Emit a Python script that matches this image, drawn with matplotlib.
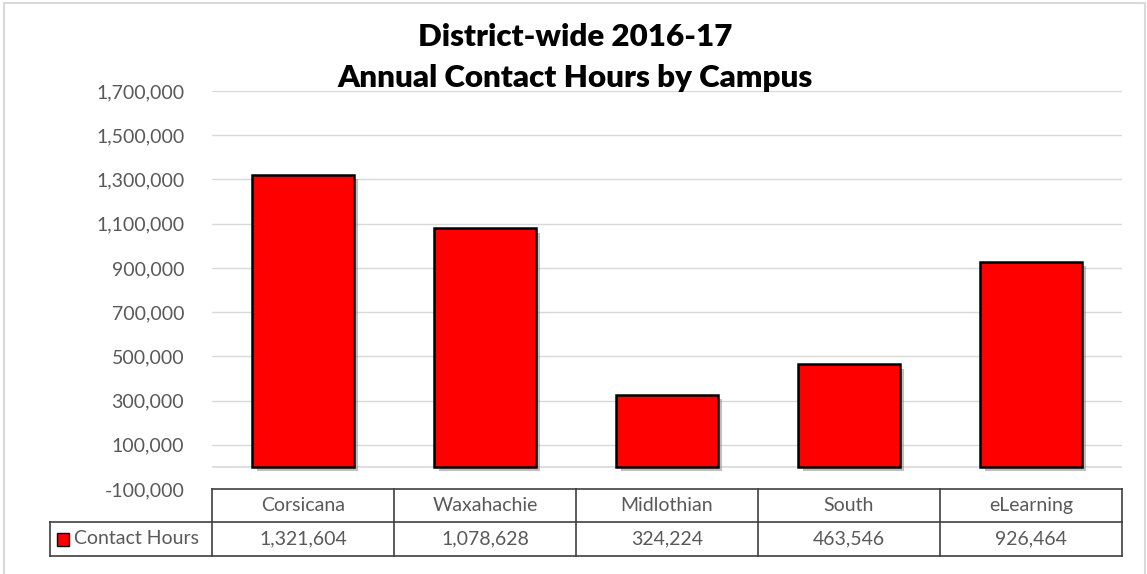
import matplotlib
matplotlib.use("Agg")
import matplotlib.pyplot as plt
from matplotlib.patches import Rectangle
import matplotlib.patheffects as pe

campuses = ["Corsicana", "Waxahachie", "Midlothian", "South", "eLearning"]
contact_hours = [1321604, 1078628, 324224, 463546, 926464]
series_name = "Contact Hours"
title_lines = ["District-wide 2016-17", "Annual Contact Hours by Campus"]
y_ticks = list(range(-100000, 1700001, 200000))

plt.rcParams["font.family"] = ["Lato", "DejaVu Sans"]
GREY = "#595959"
FS = 14
W, H = 1147, 574
fig = plt.figure(figsize=(W / 100, H / 100), dpi=100)

# outer chart border
fig.patches.append(Rectangle((4 / W, -0.01), (1145 - 4) / W, 1 - 3 / H + 0.01, transform=fig.transFigure,
                             fill=False, edgecolor="#d9d9d9", lw=1.5))

L, R, T, B = 212, 1122, 91, 489
ax = fig.add_axes([L / W, 1 - B / H, (R - L) / W, (B - T) / H])
ax.set_xlim(-0.5, len(campuses) - 0.5)
ax.set_ylim(y_ticks[0], y_ticks[-1])
ax.set_yticks(y_ticks)
ax.set_yticklabels([f"{v:,}" for v in y_ticks], color=GREY, fontsize=FS)
ax.tick_params(axis="y", length=0, pad=20)
ax.set_xticks([])
for s in ax.spines.values():
    s.set_visible(False)
ax.yaxis.grid(True, color="#d9d9d9", lw=1)
ax.axhline(0, color="#d9d9d9", lw=1.2, zorder=1)
ax.set_axisbelow(True)
ax.bar(range(len(campuses)), contact_hours, width=0.555, color="#ff0000", edgecolor="black", lw=1.8, zorder=3,
       path_effects=[pe.SimplePatchShadow(offset=(3, -3), shadow_rgbFace="#808080", alpha=0.5), pe.Normal()])

# data table
TL, TR, TT, TM, TB = 50, R, B, 522, 556
tax = fig.add_axes([TL / W, 1 - TB / H, (TR - TL) / W, (TB - TT) / H])
tax.set_xlim(TL, TR)
tax.set_ylim(TB, TT)
tax.axis("off")
lc = dict(color="#404040", lw=1.2, clip_on=False)
n = len(campuses)
cw = (R - L) / n
tax.plot([L, R], [TT, TT], **lc)
tax.plot([TL, R], [TM, TM], **lc)
tax.plot([TL, R], [TB, TB], **lc)
tax.plot([TL, TL], [TM, TB], **lc)
for i in range(n + 1):
    tax.plot([L + i * cw] * 2, [TT, TB], **lc)
for i, (c, v) in enumerate(zip(campuses, contact_hours)):
    cx = L + (i + 0.5) * cw
    tax.text(cx, (TT + TM) / 2, c, ha="center", va="center", color=GREY, fontsize=FS)
    tax.text(cx, (TM + TB) / 2, f"{v:,}", ha="center", va="center", color=GREY, fontsize=FS)
tax.add_patch(Rectangle((57, 533), 12, 13, facecolor="#ff0000", edgecolor="black", lw=1, clip_on=False))
tax.text(74, (TM + TB) / 2, series_name, ha="left", va="center", color=GREY, fontsize=FS)

fig.text(575 / W, 1 - 37 / H, title_lines[0], ha="center", va="center", fontsize=22.5, fontweight="heavy", color="black")
fig.text(575 / W, 1 - 78 / H, title_lines[1], ha="center", va="center", fontsize=22.5, fontweight="heavy", color="black")

fig.savefig("out.png", dpi=100)
